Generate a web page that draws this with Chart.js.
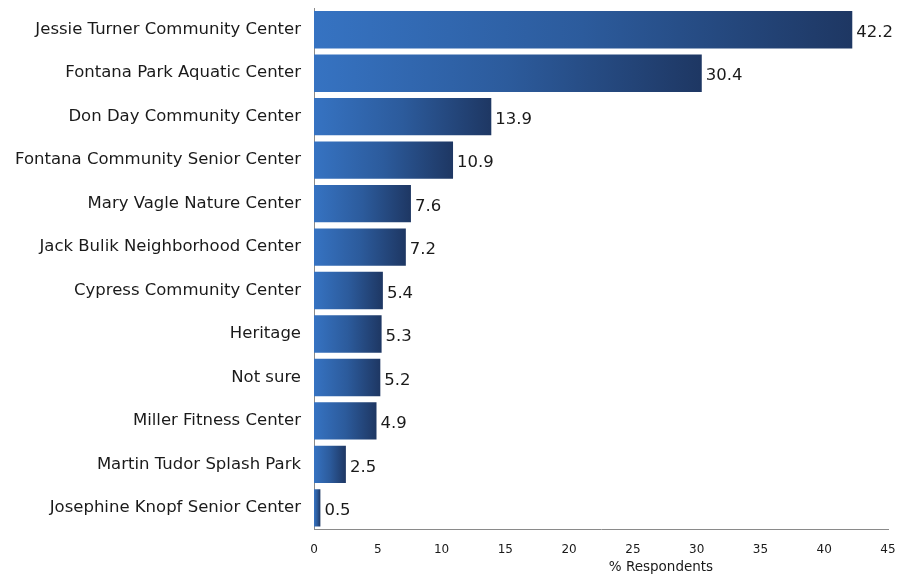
<!DOCTYPE html>
<html>
<head>
<meta charset="utf-8">
<script src="https://cdn.jsdelivr.net/npm/chart.js@4/dist/chart.umd.min.js"></script>
<style>
  body { margin: 0; background: #fff; }
  #chart { display: block; }
</style>
</head>
<body>
<canvas id="chart" width="899" height="576"></canvas>
<script>
// Survey data: percent of respondents per facility
const facilities = [
    'Jessie Turner Community Center',
    'Fontana Park Aquatic Center',
    'Don Day Community Center',
    'Fontana Community Senior Center',
    'Mary Vagle Nature Center',
    'Jack Bulik Neighborhood Center',
    'Cypress Community Center',
    'Heritage',
    'Not sure',
    'Miller Fitness Center',
    'Martin Tudor Splash Park',
    'Josephine Knopf Senior Center'
];
const percentRespondents = [42.2, 30.4, 13.9, 10.9, 7.6, 7.2, 5.4, 5.3, 5.2, 4.9, 2.5, 0.5];
const xTicks = [0, 5, 10, 15, 20, 25, 30, 35, 40, 45];
const xAxisTitle = '% Respondents';

const FONT = "'DejaVu Sans', 'Open Sans', sans-serif";

// gradient running along each bar, light blue at the base to navy at the tip
function barGradient(context) {
    const chart = context.chart;
    if (!chart.chartArea || context.raw === undefined) return '#2f5f9f';
    const xScale = chart.scales.x;
    const x0 = xScale.getPixelForValue(0);
    const x1 = xScale.getPixelForValue(context.raw);
    const g = chart.ctx.createLinearGradient(x0, 0, Math.max(x1, x0 + 1), 0);
    g.addColorStop(0, '#3673c2');
    g.addColorStop(0.5, '#2c5b9c');
    g.addColorStop(1, '#1e3763');
    return g;
}

// value labels at the end of each bar
const valueLabels = {
    id: 'valueLabels',
    afterDatasetsDraw(chart) {
        const ctx = chart.ctx;
        const meta = chart.getDatasetMeta(0);
        ctx.save();
        ctx.font = '16.5px ' + FONT;
        ctx.fillStyle = '#1a1a1a';
        ctx.textAlign = 'left';
        ctx.textBaseline = 'middle';
        meta.data.forEach((bar, i) => {
            ctx.fillText(percentRespondents[i].toFixed(1), bar.x + 4, bar.y + 3);
        });
        ctx.restore();
    }
};

// axis title sits a bit right of centre in the original
const axisTitle = {
    id: 'axisTitle',
    afterDraw(chart) {
        const ctx = chart.ctx;
        const xScale = chart.scales.x;
        ctx.save();
        ctx.font = '13.5px ' + FONT;
        ctx.fillStyle = '#1a1a1a';
        ctx.textAlign = 'center';
        ctx.textBaseline = 'middle';
        ctx.fillText(xAxisTitle, xScale.getPixelForValue(27.2), 567);
        ctx.restore();
    }
};

new Chart(document.getElementById('chart'), {
    type: 'bar',
    data: {
        labels: facilities,
        datasets: [{
            data: percentRespondents,
            backgroundColor: barGradient,
            borderWidth: 0,
            barPercentage: 0.86,
            categoryPercentage: 1.0
        }]
    },
    options: {
        indexAxis: 'y',
        responsive: false,
        animation: false,
        layout: {
            padding: { top: 8, right: 11, bottom: 6, left: 0 }
        },
        plugins: {
            legend: { display: false },
            tooltip: { enabled: false }
        },
        scales: {
            x: {
                min: 0,
                max: 45,
                afterBuildTicks(scale) {
                    scale.ticks = xTicks.map(v => ({ value: v }));
                },
                afterFit(scale) {
                    scale.paddingLeft = 0;
                    scale.paddingRight = 0;
                },
                grid: { display: false, drawTicks: false },
                border: { display: true, color: '#8a8a8a', width: 1 },
                ticks: {
                    padding: 13,
                    color: '#1a1a1a',
                    font: { family: FONT, size: 12 },
                    maxRotation: 0
                }
            },
            y: {
                grid: { display: false, drawTicks: false },
                border: { display: true, color: '#8a8a8a', width: 1 },
                afterFit(scale) {
                    scale.width = 314;
                    scale.paddingTop = 0;
                    scale.paddingBottom = 0;
                },
                ticks: {
                    padding: 13,
                    color: '#1a1a1a',
                    font: { family: FONT, size: 16.5 }
                }
            }
        }
    },
    plugins: [valueLabels, axisTitle]
});
</script>
</body>
</html>
